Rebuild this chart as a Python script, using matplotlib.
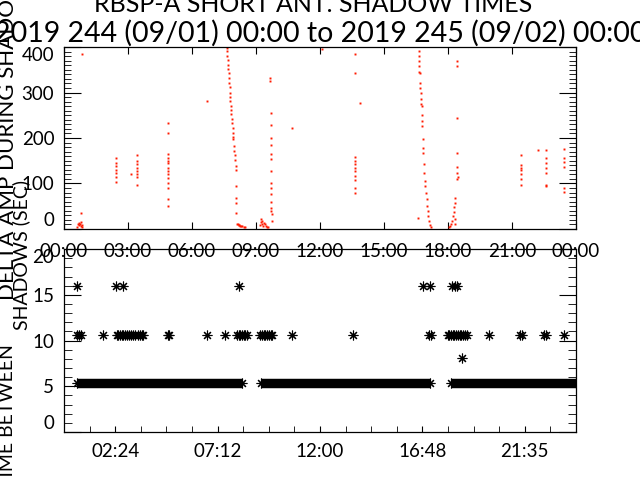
import matplotlib.pyplot as plt
import numpy as np

# top panel: delta amplitude during shadow, x in hours of day
amp_hours = [0.62, 0.65, 0.68, 0.72, 0.75, 0.78, 0.8, 0.83, 0.85, 0.83, 0.8,
             2.45, 2.45, 2.45, 2.45, 2.45, 2.45, 2.45, 3.13,
             3.44, 3.44, 3.44, 3.44, 3.44, 3.44, 3.44, 3.44,
             4.89, 4.89, 4.89, 4.89, 4.89, 4.89, 4.89, 4.89, 4.89, 4.89, 4.89, 4.89, 4.89, 4.89,
             6.72,
             7.62, 7.64, 7.66, 7.65, 7.68, 7.7, 7.69, 7.72, 7.74, 7.73, 7.76, 7.78, 7.8, 7.79,
             7.82, 7.84, 7.83, 7.86, 7.88, 7.9, 7.92, 7.94, 7.93, 7.96, 7.98, 8.0, 8.02, 8.04,
             8.06, 8.07, 8.06, 8.08, 8.07, 8.1, 8.14, 8.18, 8.22, 8.26, 8.3, 8.36, 8.42, 8.48,
             9.2, 9.22, 9.25, 9.28, 9.3, 9.33, 9.36, 9.4, 9.45, 9.5, 9.55,
             9.65, 9.66, 9.68, 9.68, 9.69, 9.69, 9.7, 9.7, 9.7, 9.71, 9.71, 9.71, 9.72, 9.72,
             9.72, 9.73, 9.73,
             10.67, 12.08,
             13.64, 13.64, 13.64, 13.64, 13.64, 13.64, 13.64, 13.64, 13.64, 13.64, 13.64, 13.88,
             16.62, 16.63, 16.62, 16.65, 16.64, 16.66, 16.69, 16.7, 16.71, 16.72, 16.74, 16.75,
             16.77, 16.78, 16.79, 16.8, 16.81, 16.82, 16.84, 16.86, 16.88, 16.9, 16.93, 16.97,
             17.0, 17.03, 17.06, 17.08, 17.12, 17.16, 17.2, 16.6,
             18.06, 18.1, 18.15, 18.2, 18.24, 18.27, 18.3, 18.32, 18.34, 18.33, 18.35,
             18.41, 18.41, 18.41, 18.41, 18.41, 18.41, 18.45, 18.41,
             21.44, 21.44, 21.44, 21.44, 21.44, 21.44, 21.44, 22.23,
             22.6, 22.6, 22.6, 22.6, 22.6, 22.6, 22.6,
             23.45, 23.45, 23.45, 23.45, 23.45, 23.45]
amp_values = [5, 10, 14, 8, 12, 6, 15, 9, 5, 385, 35,
              155, 145, 138, 130, 122, 115, 103, 121,
              162, 149, 142, 135, 127, 120, 115, 97,
              234, 212, 164, 157, 149, 145, 135, 127, 120, 113, 102, 90, 66, 50,
              282,
              405, 398, 392, 380, 372, 360, 352, 344, 332, 322, 312, 300, 290, 282,
              271, 262, 252, 242, 232, 222, 212, 202, 197, 182, 172, 162, 152, 138,
              130, 94, 68, 57, 35, 12, 10, 8, 9, 7, 6, 6, 5, 5,
              8, 15, 22, 18, 12, 7, 14, 10, 6, 5, 5,
              331, 326, 256, 228, 201, 184, 164, 153, 127, 102, 90, 76, 60, 46,
              39, 32, 17,
              223, 396,
              385, 344, 159, 149, 142, 135, 127, 116, 107, 90, 78, 276,
              402, 392, 380, 370, 358, 346, 344, 322, 310, 298, 286, 274,
              271, 250, 238, 226, 197, 178, 166, 142, 124, 106, 94, 79,
              65, 50, 40, 28, 18, 9, 5, 24,
              4, 6, 10, 18, 28, 38, 48, 58, 68, 22, 12,
              370, 359, 245, 166, 137, 124, 115, 109,
              162, 140, 135, 129, 120, 110, 97, 173,
              173, 156, 146, 135, 124, 97, 94,
              175, 156, 147, 137, 90, 82]

# bottom panel: time between shadows (sec)
gap_hours_16 = [0.63, 2.42, 2.78, 8.2, 16.84, 17.16, 18.17, 18.33, 18.41]
gap_hours_11 = [0.62, 0.7, 0.78, 1.84, 2.47, 2.55, 2.62, 2.7, 2.78, 2.86, 2.95, 3.05,
                3.15, 3.25, 3.35, 3.45, 3.55, 3.65, 3.72, 4.86, 4.92, 6.72, 7.55,
                8.1, 8.18, 8.26, 8.34, 8.42, 8.5, 8.56, 9.19, 9.28, 9.36, 9.44, 9.52,
                9.6, 9.68, 9.73, 10.67, 13.56, 17.12, 17.2, 17.98, 18.06, 18.14,
                18.22, 18.3, 18.38, 18.46, 18.54, 18.62, 18.7, 18.78, 18.88, 19.94,
                21.38, 21.46, 22.5, 22.6, 23.45]
gap_hours_8 = [18.64]
band_start = [0.62, 9.23, 18.14]
band_end = [8.34, 17.16, 24.0]
row_16, row_11, row_8, row_5 = 15.95, 10.62, 8.1, 5.38

top_ticks = [0, 3, 6, 9, 12, 15, 18, 21, 24]
top_labels = ['00:00', '03:00', '06:00', '09:00', '12:00', '15:00', '18:00', '21:00', '00:00']
bot_ticks = [2.4, 7.2, 12.0, 16.8, 21.6]
bot_labels = ['02:24', '07:12', '12:00', '16:48', '21:35']

plt.rcParams['font.family'] = ['Lato', 'DejaVu Sans']
plt.rcParams['font.size'] = 13

fig = plt.figure(figsize=(6.4, 4.8), dpi=100)
ax1 = fig.add_axes([0.1, 0.523, 0.8, 0.379])
ax2 = fig.add_axes([0.1, 0.1, 0.8, 0.381])
ax2.set_facecolor('none')

ax1.plot(amp_hours, amp_values, ls='none', marker='s', ms=1.4, mew=0, color='#ff1a00')
ax1.set_xlim(0, 24)
ax1.set_ylim(0, 400)
ax1.set_xticks(top_ticks)
ax1.set_xticklabels(top_labels)
ax1.set_yticks([0, 100, 200, 300, 400])
ax1.set_yticks(np.arange(0, 401, 10), minor=True)
ax1.tick_params(axis='x', direction='in', top=True, length=5, pad=10, labelsize=13.5)
ax1.tick_params(axis='y', which='major', direction='in', right=True, length=12, pad=7, labelsize=13.5)
ax1.tick_params(axis='y', which='minor', direction='in', right=True, length=5)
yl = ax1.get_yticklabels()
yl[0].set_va('bottom')
yl[-1].set_va('top')

ax2.hlines([row_5] * 3, band_start, band_end, color='black', lw=6.8)
ax2.plot(band_start + band_end, [row_5] * 6, ls='none', marker=(8, 2, 0), ms=7, mew=0.8, color='black')
ax2.plot(gap_hours_16, [row_16] * len(gap_hours_16), ls='none', marker=(8, 2, 0), ms=7, mew=0.8, color='black')
ax2.plot(gap_hours_11, [row_11] * len(gap_hours_11), ls='none', marker=(8, 2, 0), ms=7, mew=0.8, color='black')
ax2.plot(gap_hours_8, [row_8] * len(gap_hours_8), ls='none', marker=(8, 2, 0), ms=7, mew=0.8, color='black')
ax2.set_xlim(0, 24)
ax2.set_ylim(0, 20)
ax2.set_xticks(bot_ticks)
ax2.set_xticklabels(bot_labels)
ax2.set_xticks(np.arange(0, 24.1, 1.2), minor=True)
ax2.set_yticks([0, 5, 10, 15, 20])
ax2.set_yticks(np.arange(0, 21, 1), minor=True)
ax2.tick_params(axis='x', which='both', direction='in', length=4, pad=8, labelsize=13.5)
ax2.tick_params(axis='y', which='major', direction='in', right=True, length=12, pad=7, labelsize=13.5)
ax2.tick_params(axis='y', which='minor', direction='in', right=True, length=6)
yl = ax2.get_yticklabels()
yl[0].set_va('bottom')
yl[-1].set_va('top')

for ax in (ax1, ax2):
    for s in ax.spines.values():
        s.set_linewidth(0.9)

fig.text(0.49, 1 - 12 / 480, 'RBSP-A SHORT ANT. SHADOW TIMES', ha='center', va='baseline', fontsize=18)
fig.text(0.5, 1 - 42 / 480, '2019 244 (09/01) 00:00 to 2019 245 (09/02) 00:00',
         ha='center', va='baseline', fontsize=20.5)
fig.text(8 / 640, 1 - 300 / 480, 'DELTA AMP DURING SHADOW', rotation=90, ha='center', va='bottom', fontsize=16)
fig.text(21 / 640, 1 - 330 / 480, 'SHADOWS (SEC)', rotation=90, ha='center', va='bottom', fontsize=14)
fig.text(8 / 640, -8 / 480, 'TIME BETWEEN', rotation=90, ha='center', va='bottom', fontsize=14)

fig.savefig('out.png', dpi=100)
